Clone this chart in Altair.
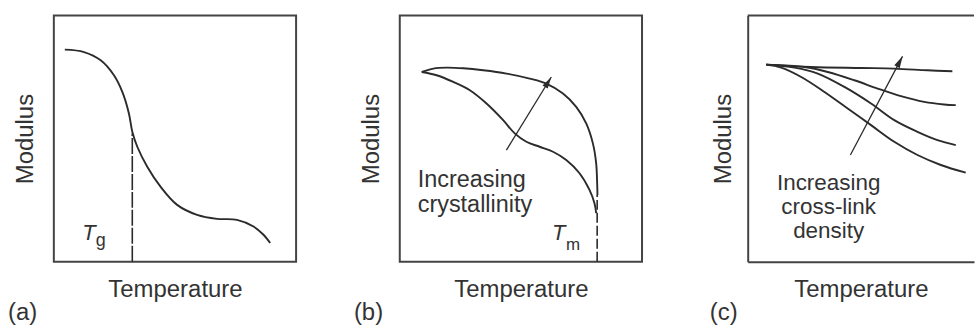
import altair as alt
import pandas as pd

FONT = "Liberation Sans"
INK = "#2b2b2b"
TXT = "#333333"
FRAME = "#444444"
FS = 24          # axis titles / panel letters
FA = 23.5        # annotation texts
W, H = 243, 247      # plot box (data units == box units)
WC = 227             # panel (c) is cut at the right edge of the picture

# ---------------- panel (a) ----------------
a_x = [11, 30.3, 47, 60.3, 68.7, 75.3, 78.7, 83.7, 93.7, 107, 123.7, 143.7, 163.7, 183.7, 200.3, 210.3, 217]
a_y = [212.7, 210.3, 202, 187, 170.3, 148.7, 130.3, 115.3, 95.3, 75.3, 57, 47, 43, 42, 35.3, 27, 18.7]
tg_x = [78.7, 78.7]
tg_y = [0, 128.7]

# ---------------- panel (b) ----------------
bu_x = [22, 33.7, 47, 63.7, 83.7, 107, 130.3, 147, 163.7, 177, 187, 193.7, 197, 198, 198.3]
bu_y = [190.3, 193.7, 194.7, 194, 192, 188.7, 183.7, 178.7, 168.7, 155.3, 138.7, 118.7, 98.7, 78.7, 67]
bl_x = [22, 37, 53.7, 70.3, 87, 103.7, 115.3, 127, 140.3, 153.7, 167, 180.3, 190.3, 195.3, 197]
bl_y = [190.3, 187, 180.3, 172, 158.7, 142, 128.7, 120.3, 115.3, 110.3, 102, 88.7, 72, 58.7, 48.7]
tm_x = [198, 198]
tm_y = [0, 67]
b_arrow_x = [107, 152]
b_arrow_y = [112, 185.3]
b_arrow_angle = 31.5

# ---------------- panel (c) ----------------
c1_x = [18.7, 63.7, 113.7, 147, 180.3, 205.3]
c1_y = [197.7, 195.3, 194.3, 193.7, 192, 191]
c2_x = [18.7, 57, 80.3, 107, 130.3, 153.7, 177, 197, 208.7]
c2_y = [197.7, 195.3, 190.3, 182, 173.7, 166, 160.3, 157.7, 157]
c3_x = [18.7, 47, 70.3, 97, 123.7, 147, 170.3, 190.3, 208.7]
c3_y = [197.7, 194.7, 188.7, 175.3, 158.7, 142, 130.3, 122, 117]
c4_x = [18.7, 33.7, 53.7, 77, 100.3, 123.7, 147, 170.3, 193.7, 218.7]
c4_y = [197.7, 194.7, 185.3, 170.3, 153.7, 137, 120.3, 107, 97, 89.3]
c_arrow_x = [103, 155.3]
c_arrow_y = [107, 206]
c_arrow_angle = 27.8

# ---------------- texts ----------------
a_text = ["T", "g"]
a_text_x = [35.3, 47]
a_text_y = [22, 15.3]
b_label = ["Increasing", "crystallinity"]
b_label_pos = (18, 75.3)
b_tm = ["T", "m"]
b_tm_x = [159.5, 173.7]
b_tm_y = [22, 12]
c_label = ["Increasing", "cross-link", "density"]
c_label_pos = (81.2, 72)

ARROW_HEAD = "M0,0L0.26,1L-0.26,1Z"


def line_df(xs, ys, name="s"):
    return pd.DataFrame({"x": xs, "y": ys, "i": list(range(len(xs))), "s": name})


def enc(w, domain=False, ypad=16):
    return dict(
        x=alt.X("x:Q", scale=alt.Scale(domain=[0, w], nice=False, zero=False),
                axis=alt.Axis(title="Temperature", labels=False, ticks=False, grid=False,
                              domain=domain, domainColor=FRAME, domainWidth=2,
                              titlePadding=16, titleFont=FONT, titleFontSize=FS,
                              titleFontWeight="normal", titleColor=TXT)),
        y=alt.Y("y:Q", scale=alt.Scale(domain=[0, H], nice=False, zero=False),
                axis=alt.Axis(title="Modulus", labels=False, ticks=False, grid=False,
                              domain=domain, domainColor=FRAME, domainWidth=2,
                              titlePadding=ypad, titleFont=FONT, titleFontSize=FS,
                              titleFontWeight="normal", titleColor=TXT)),
    )


def curves(df, e, dash=None):
    kw = dict(interpolate="catmull-rom", strokeWidth=1.9, color=INK)
    if dash:
        kw = dict(strokeWidth=1.6, color=INK, strokeDash=dash)
    return alt.Chart(df).mark_line(**kw).encode(order="i:Q", detail="s:N", **e)


def texts(labels, xs, ys, e, size=FA, align="left", italic=False, line_height=None):
    df = pd.DataFrame({"x": xs, "y": ys, "t": labels})
    kw = dict(align=align, baseline="alphabetic", font=FONT, fontSize=size, color=TXT)
    if italic:
        kw["fontStyle"] = "italic"
    if line_height:
        kw["lineBreak"] = "\n"
        kw["lineHeight"] = line_height
    return alt.Chart(df).mark_text(**kw).encode(text="t:N", **e)


def arrow(xs, ys, angle, e):
    shaft = alt.Chart(line_df(xs, ys)).mark_line(strokeWidth=1.3, color=INK).encode(order="i:Q", **e)
    head_df = pd.DataFrame({"x": [xs[-1]], "y": [ys[-1]]})
    head = alt.Chart(head_df).mark_point(shape=ARROW_HEAD, filled=True, size=560, angle=angle,
                                         color=INK, opacity=1).encode(**e)
    return shaft + head


def panel_title(letter, dx):
    return alt.Title(letter, orient="bottom", anchor="start", frame="group", dx=dx, offset=-1,
                     font=FONT, fontSize=FS, fontWeight="normal", color=TXT)


# panel a
ea = enc(W)
pa = alt.layer(
    curves(line_df(a_x, a_y), ea),
    curves(line_df(tg_x, tg_y), ea, dash=[16, 2]),
    texts([a_text[0]], [a_text_x[0]], [a_text_y[0]], ea, size=22, align="center", italic=True),
    texts([a_text[1]], [a_text_x[1]], [a_text_y[1]], ea, size=18, align="center"),
).properties(width=W, height=H, title=panel_title("(a)", -46))

# panel b
eb = enc(W)
pb = alt.layer(
    curves(pd.concat([line_df(bu_x, bu_y, "u"), line_df(bl_x, bl_y, "l")]), eb),
    curves(line_df(tm_x, tm_y), eb, dash=[10, 3]),
    arrow(b_arrow_x, b_arrow_y, b_arrow_angle, eb),
    texts(["\n".join(b_label)], [b_label_pos[0]], [b_label_pos[1]], eb, align="left", line_height=25),
    texts([b_tm[0]], [b_tm_x[0]], [b_tm_y[0]], eb, size=22, align="center", italic=True),
    texts([b_tm[1]], [b_tm_x[1]], [b_tm_y[1]], eb, size=17, align="center"),
).properties(width=W, height=H, title=panel_title("(b)", -46))

# panel c
ec = enc(WC, domain=True, ypad=12)
c_df = pd.concat([line_df(c1_x, c1_y, "1"), line_df(c2_x, c2_y, "2"),
                  line_df(c3_x, c3_y, "3"), line_df(c4_x, c4_y, "4")])
frame_c = alt.Chart(pd.DataFrame({"x": [0], "x2": [WC], "y": [H]})).mark_rule(
    color=FRAME, strokeWidth=2).encode(x=ec["x"], x2="x2:Q", y=ec["y"])
pc = alt.layer(
    frame_c,
    curves(c_df, ec),
    arrow(c_arrow_x, c_arrow_y, c_arrow_angle, ec),
    texts(["\n".join(c_label)], [c_label_pos[0]], [c_label_pos[1]], ec, size=22.5,
          align="center", line_height=24),
).properties(width=WC, height=H, title=panel_title("(c)", -38),
             view=alt.ViewBackground(stroke=None))

chart = alt.hconcat(alt.hconcat(pa, pb, spacing=56), pc, spacing=67).configure(
    padding={"left": 7, "top": 14, "right": 0, "bottom": 0}
).configure_view(stroke=FRAME, strokeWidth=2).configure_concat(spacing=56)

chart.save("out.html", embed_options={"renderer": "svg", "actions": False})
